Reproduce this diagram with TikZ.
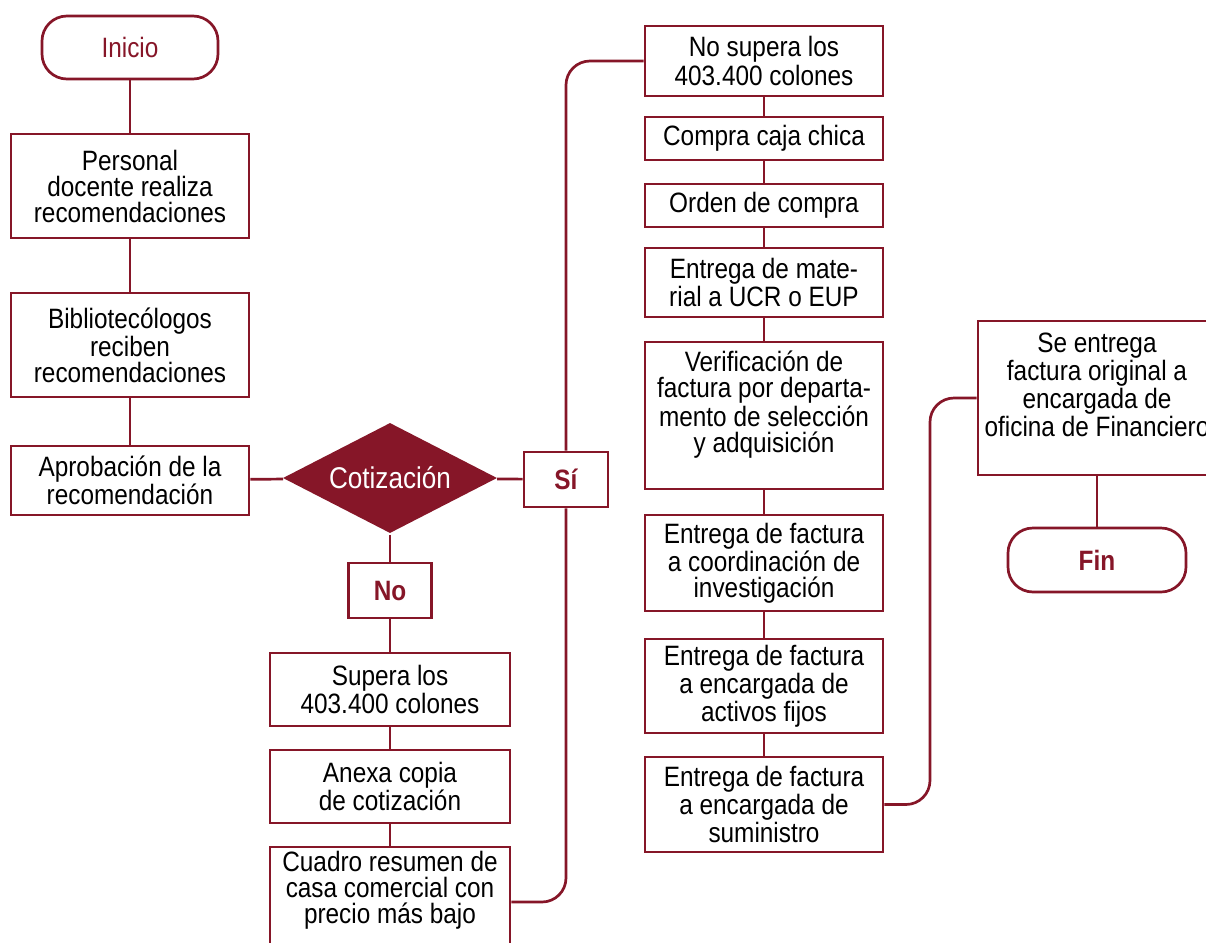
\documentclass[tikz,border=0pt]{standalone}
\usepackage{fontspec}
\setmainfont{Liberation Sans}[FakeStretch=0.87]
\usetikzlibrary{shapes.geometric}
\definecolor{vino}{HTML}{861628}

\begin{document}
\begin{tikzpicture}[x=0.5pt,y=-0.5pt,line width=1.35pt,
  every node/.style={font=\fontsize{14}{13}\selectfont,align=center,inner sep=0pt},
  box/.style={draw=vino,fill=white,minimum width=119pt},
  term/.style={draw=vino,fill=white,rounded corners=12.5pt,text=vino},
  decision/.style={diamond,aspect=1.94,fill=vino,text=white,minimum width=107.5pt,minimum height=55.5pt,font=\fontsize{15}{14}\selectfont},
  answer/.style={draw=vino,fill=white,text=vino,font=\fontsize{14}{13}\selectfont\bfseries,minimum height=27.5pt},
  link/.style={draw=vino,rounded corners=12pt}]
\clip (0,0) rectangle (1206,943);
\useasboundingbox (0,0) rectangle (1206,943);
% left column
\node (inicio) [term,minimum width=88pt,minimum height=31.5pt] at (130,47.5) {Inicio};
\node (pers) [box,minimum height=52pt] at (130,186) {Personal\\docente realiza\\recomendaciones};
\node (bib) [box,minimum height=52pt] at (130,345) {Bibliotecólogos\\reciben\\recomendaciones};
\node (aprob) [box,minimum height=34.5pt] at (130,480.5) {Aprobación de la\\recomendación};
% decision
\node (cot) [decision] at (390,478) {Cotización};
\node (si) [answer,minimum width=42pt] at (566,479.5) {Sí};
\node (no) [answer,minimum width=41.5pt] at (390,590.5) {No};
% no branch
\node (sup) [box,minimum width=120pt,minimum height=36.5pt] at (390,689.5) {Supera los\\403.400 colones};
\node (anexa) [box,minimum width=120pt,minimum height=36.5pt] at (390,786.5) {Anexa copia\\de cotización};
\node (cuadro) [box,minimum width=120pt,minimum height=55pt] at (390,902) {Cuadro resumen de\\casa comercial con\\precio más bajo\\[2pt]};
% right column
\node (nosup) [box,minimum height=35pt] at (764,61) {No supera los\\403.400 colones};
\node (caja) [box,minimum height=21.5pt] at (764,138.5) {Compra caja chica};
\node (orden) [box,minimum height=21.5pt] at (764,205.5) {Orden de compra};
\node (mat) [box,minimum height=34.5pt] at (764,282.5) {Entrega de mate-\\rial a UCR o EUP};
\node (verif) [box,minimum height=73.5pt] at (764,415.5) {Verificación de\\factura por departa-\\mento de selección\\y adquisición\\[1pt]};
\node (coord) [box,minimum height=48pt] at (764,563) {Entrega de factura\\a coordinación de\\investigación};
\node (activos) [box,minimum height=47pt] at (764,686) {Entrega de factura\\a encargada de\\activos fijos};
\node (sumin) [box,minimum height=47.5pt] at (764,804.5) {Entrega de factura\\a encargada de\\suministro};
% last steps
\node (orig) [box,minimum height=77pt] at (1097,398) {Se entrega\\factura original a\\encargada de\\oficina de Financiero\\[0pt]};
\node (fin) [term,minimum width=89pt,minimum height=32pt,font=\fontsize{14}{13}\selectfont\bfseries] at (1097,560) {Fin};
\coordinate (bend) at (930,0);
%
\draw[vino] (inicio) -- (pers);
\draw[vino] (pers) -- (bib);
\draw[vino] (bib) -- (aprob);
\draw[vino] (aprob) -- (cot);
\draw[vino] (cot) -- (si);
\draw[vino] (cot) -- (no);
\draw[vino] (no) -- (sup);
\draw[vino] (sup) -- (anexa);
\draw[vino] (anexa) -- (cuadro);
\draw[link] (cuadro.east) -| (si.south);
\draw[link] (si.north) |- (nosup.west);
\draw[vino] (nosup) -- (caja);
\draw[vino] (caja) -- (orden);
\draw[vino] (orden) -- (mat);
\draw[vino] (mat) -- (verif);
\draw[vino] (verif) -- (coord);
\draw[vino] (coord) -- (activos);
\draw[vino] (activos) -- (sumin);
\draw[link] (sumin.east) -- (sumin.east -| bend) -- (bend |- orig.west) -- (orig.west);
\draw[vino] (orig) -- (fin);
\end{tikzpicture}
\end{document}
